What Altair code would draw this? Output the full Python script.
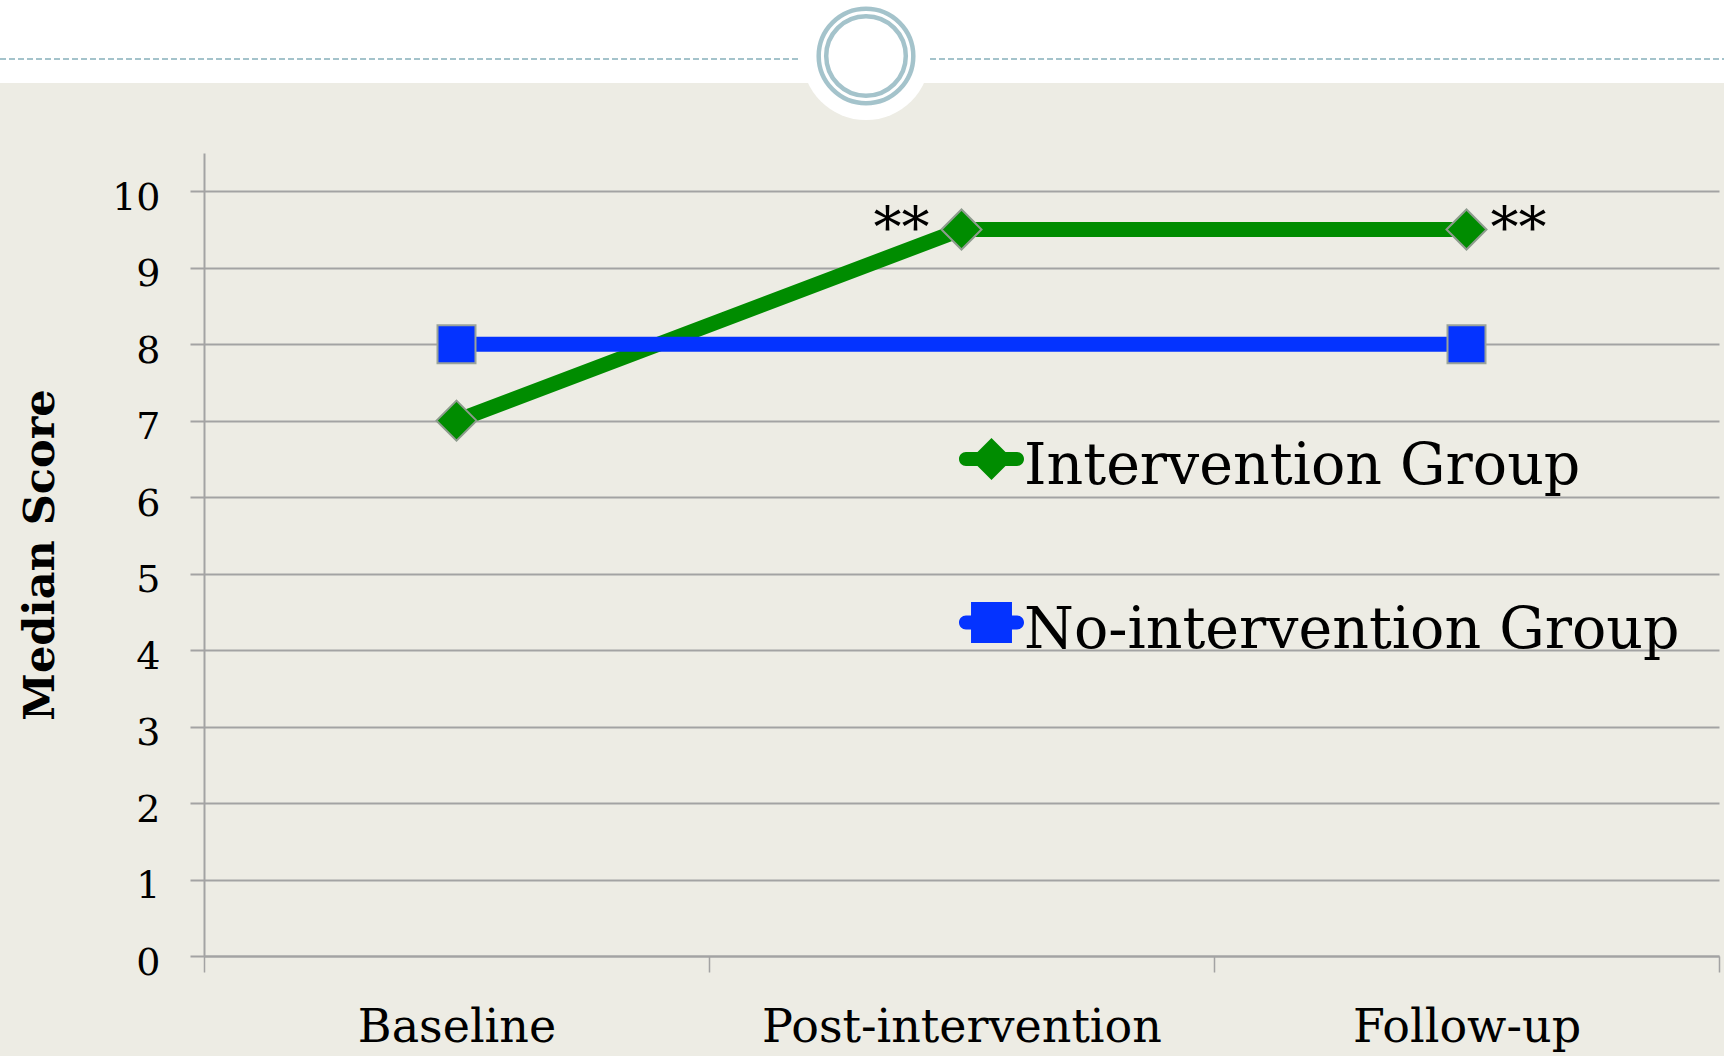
import altair as alt
import pandas as pd

# ---- data -------------------------------------------------------------
timepoints = ["Baseline", "Post-intervention", "Follow-up"]
groups = ["Intervention Group", "No-intervention Group"]
intervention_scores = [7, 9.5, 9.5]
no_intervention_scores = [8, None, 8]
y_ticks = list(range(0, 11))

sig_timepoints = ["Post-intervention", "Follow-up"]
sig_scores = [9.5, 9.5]
sig_labels = ["**", "**"]

# ---- styling ------------------------------------------------------------
GREEN = "#008C00"
BLUE = "#0433FF"
GRID = "#A3A3A3"
BG = "#EDECE4"
ACCENT = "#A4C3CB"
SERIF = "DejaVu Serif"

# legend glyphs: a short round-capped stroke with the series marker on top,
# lifted slightly so the label sits on the glyph's lower half
LINE_PART = ("M-0.785,-0.461 L0.785,-0.461 A0.215,0.215 0 0 1 0.785,-0.031 "
             "L-0.785,-0.031 A0.215,0.215 0 0 1 -0.785,-0.461 Z ")
DIAMOND_GLYPH = LINE_PART + "M0,-0.892 L0.646,-0.246 L0,0.4 L-0.646,-0.246 Z"
SQUARE_GLYPH = LINE_PART + "M-0.63,-0.876 L0.63,-0.876 L0.63,0.384 L-0.63,0.384 Z"

rows = []
for g, scores in zip(groups, [intervention_scores, no_intervention_scores]):
    for t, s in zip(timepoints, scores):
        rows.append({"time": t, "group": g, "score": s})
scores_df = pd.DataFrame(rows)
sig_df = pd.DataFrame({"time": sig_timepoints, "score": sig_scores, "label": sig_labels})
deco_df = pd.DataFrame({"k": [0]})

W, H = 1515, 803
LEFT, TOP = 204, 153

color_scale = alt.Scale(domain=groups, range=[GREEN, BLUE])

x_enc = alt.X(
    "time:N",
    sort=timepoints,
    bandPosition=0.5,
    scale=alt.Scale(type="band", domain=timepoints, paddingInner=0, paddingOuter=0),
    axis=alt.Axis(
        title=None, grid=False, tickBand="extent", labelAngle=0,
        labelFont=SERIF, labelFontSize=46, labelColor="black",
        labelPadding=69, labelBaseline="alphabetic", labelLimit=1000,
        tickSize=16, tickColor=GRID, tickWidth=1.5,
        domainColor=GRID, domainWidth=2,
    ),
)
y_enc = alt.Y(
    "score:Q",
    scale=alt.Scale(domain=[0, 10.5], nice=False, zero=True),
    axis=alt.Axis(
        values=y_ticks, grid=True, gridColor=GRID, gridWidth=2,
        domainColor=GRID, domainWidth=2, tickColor=GRID, tickWidth=2, tickSize=14,
        labelFont=SERIF, labelFontSize=38, labelColor="black",
        labelPadding=30, labelOffset=7,
        title="Median Score", titleFont=SERIF, titleFontSize=43,
        titleFontWeight="bold", titleColor="black", titleAngle=270,
        titleX=40 - LEFT, titleY=H / 2, titleAlign="center", titleBaseline="middle",
    ),
)

# ---- slide header decoration ---------------------------------------------
deco = alt.Chart(deco_df)
header_band = deco.mark_rect(color="white").encode(
    x=alt.value(-LEFT), x2=alt.value(W + 10), y=alt.value(-TOP), y2=alt.value(83 - TOP)
)
dash_left = deco.mark_rule(stroke=ACCENT, strokeWidth=2, strokeDash=[6, 3]).encode(
    x=alt.value(-LEFT), x2=alt.value(800 - LEFT), y=alt.value(59 - TOP)
)
dash_right = deco.mark_rule(stroke=ACCENT, strokeWidth=2, strokeDash=[6, 3]).encode(
    x=alt.value(930 - LEFT), x2=alt.value(W + 10), y=alt.value(59 - TOP)
)
disc = deco.mark_point(shape="circle", filled=True, color="white", opacity=1, size=16384).encode(
    x=alt.value(866 - LEFT), y=alt.value(56 - TOP)
)
ring_outer = deco.mark_point(shape="circle", filled=False, stroke=ACCENT, strokeWidth=4.5,
                             opacity=1, size=8950).encode(
    x=alt.value(866 - LEFT), y=alt.value(56 - TOP)
)
ring_inner = deco.mark_point(shape="circle", filled=False, stroke=ACCENT, strokeWidth=4.5,
                             opacity=1, size=6336).encode(
    x=alt.value(866 - LEFT), y=alt.value(56 - TOP)
)

# ---- series ------------------------------------------------------------
color_enc = alt.Color("group:N", scale=color_scale)

base = alt.Chart(scores_df)
# missing observations are skipped so the line joins the remaining points
lines = base.transform_filter("isValid(datum.score)").mark_line(strokeWidth=15).encode(
    x=x_enc, y=y_enc, color=color_enc
)
diamonds = base.transform_filter(alt.datum.group == groups[0]).mark_point(
    shape="diamond", filled=True, size=1600, opacity=1, stroke="#8E9C8E", strokeWidth=2
).encode(x=x_enc, y=y_enc, color=color_enc)
squares = base.transform_filter(alt.datum.group == groups[1]).transform_filter(
    "isValid(datum.score)"
).mark_point(
    shape="square", filled=True, size=1444, opacity=1, stroke="#9AA39A", strokeWidth=2
).encode(x=x_enc, y=y_enc, color=color_enc)

# significance markers
sig = alt.Chart(sig_df)
sig_left = sig.transform_filter(alt.datum.time == sig_timepoints[0]).mark_text(
    font=SERIF, fontSize=56, color="black", align="right", baseline="alphabetic", dx=-32, dy=18
).encode(x=x_enc, y=y_enc, text="label:N")
sig_right = sig.transform_filter(alt.datum.time == sig_timepoints[1]).mark_text(
    font=SERIF, fontSize=56, color="black", align="left", baseline="alphabetic", dx=24, dy=18
).encode(x=x_enc, y=y_enc, text="label:N")

# legend (no marks of its own; entries come from the scale domains)
legend_def = alt.Legend(
    title=None, orient="none", legendX=959 - LEFT, legendY=467 - 32.5 - TOP,
    direction="vertical", symbolSize=4225, symbolStrokeWidth=0, symbolOpacity=1,
    labelFont=SERIF, labelFontSize=57, labelColor="black", labelLimit=2000,
    labelOffset=0, rowPadding=102.5, padding=0, offset=0,
)
legend_layer = base.transform_filter("false").mark_point(filled=True, opacity=1).encode(
    x=x_enc, y=y_enc,
    color=alt.Color("group:N", scale=color_scale, legend=legend_def),
    shape=alt.Shape("group:N", scale=alt.Scale(domain=groups, range=[DIAMOND_GLYPH, SQUARE_GLYPH]),
                    legend=legend_def),
)

chart = alt.layer(
    header_band, dash_left, dash_right, disc, ring_outer, ring_inner,
    lines, diamonds, squares, sig_left, sig_right, legend_layer,
).properties(
    width=W, height=H,
    autosize=alt.AutoSizeParams(type="none"),
    padding={"left": LEFT, "top": TOP, "right": 1724 - LEFT - W, "bottom": 1056 - TOP - H},
    background=BG,
).configure_view(strokeWidth=0)

chart.save("out.html", embed_options={"renderer": "svg", "actions": False})
